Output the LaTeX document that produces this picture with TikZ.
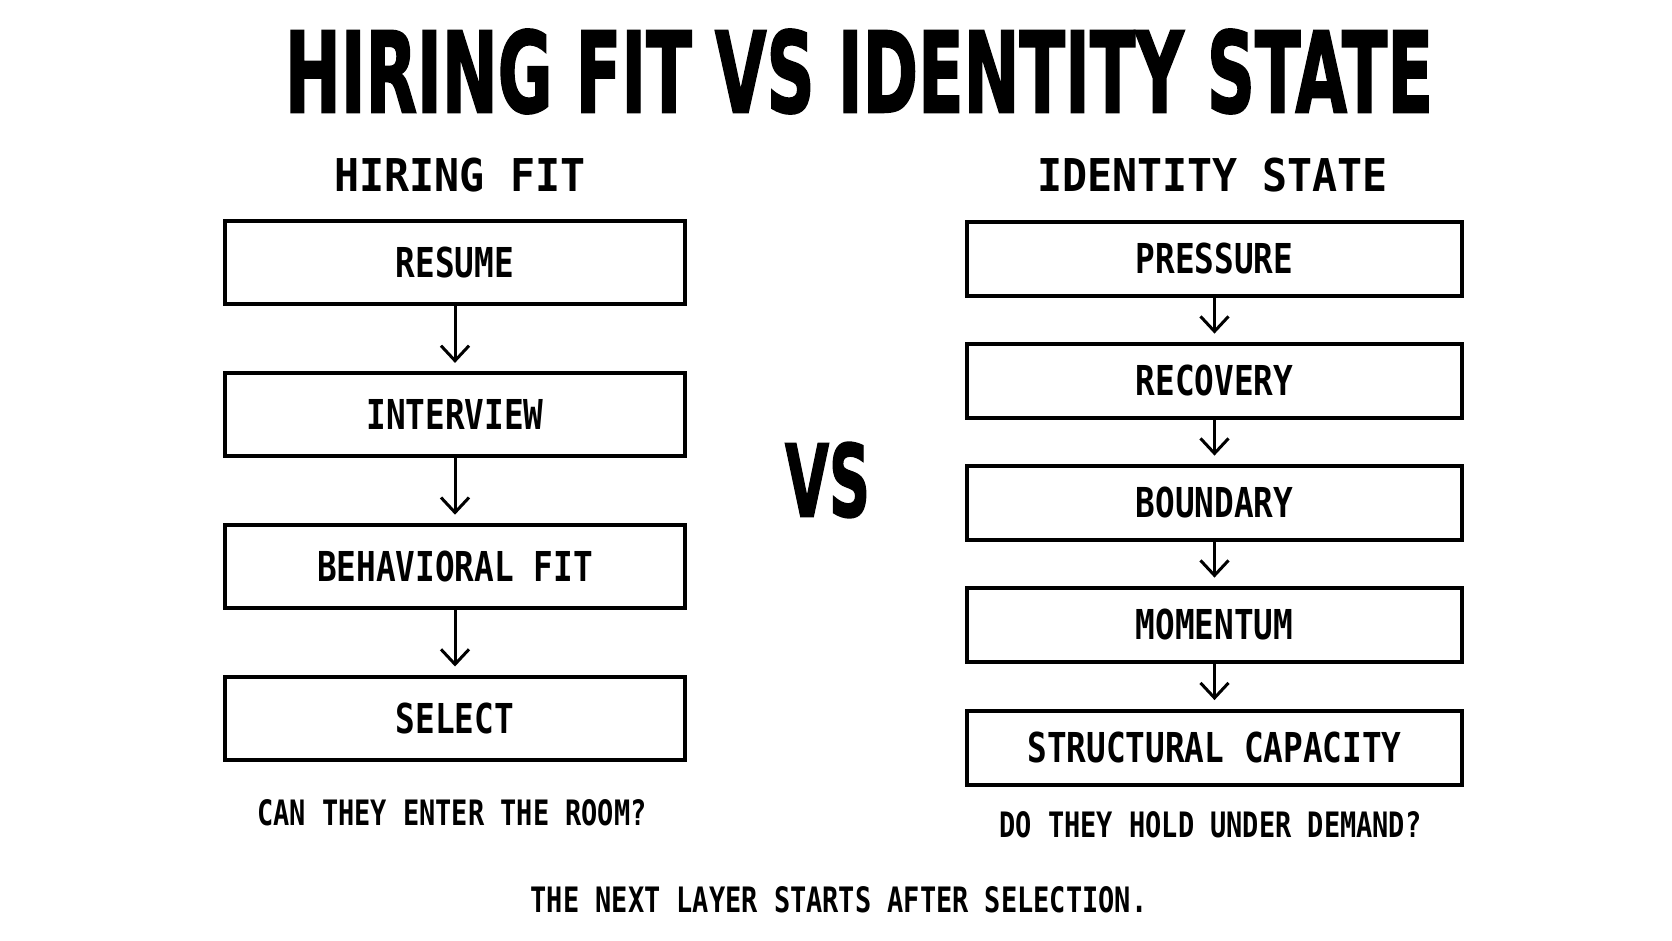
\documentclass[tikz,border=0pt]{standalone}
\usepackage{fontspec}
\usepackage{graphicx}
\usetikzlibrary{arrows.meta}
\newfontfamily\titlefont{DejaVu Sans Bold}[FakeBold=2]
\newfontfamily\labelfont{DejaVu Sans Mono Bold}[FakeStretch=0.794]
\newfontfamily\capfont{DejaVu Sans Mono Bold}[FakeStretch=0.77]
\newfontfamily\subfont{DejaVu Sans Mono Bold}[FakeStretch=0.92]
\begin{document}
\begin{tikzpicture}[x=0.5pt,y=-0.5pt,
  lbox/.style={draw=black, line width=2pt, minimum width=230pt, minimum height=41.5pt,
    inner sep=0pt, font=\labelfont\fontsize{20.6pt}{24pt}\selectfont},
  rbox/.style={draw=black, line width=2pt, minimum width=247.5pt, minimum height=37pt,
    inner sep=0pt, font=\labelfont\fontsize{20.6pt}{24pt}\selectfont},
  flow/.style={line width=1.5pt, -{Straight Barb[length=7.5pt,width=14pt]}, shorten >=4.2pt},
  capt/.style={inner sep=0pt, font=\capfont\fontsize{17.5pt}{20pt}\selectfont},
  subt/.style={inner sep=0pt, font=\subfont\fontsize{22.6pt}{26pt}\selectfont},
  bigt/.style={inner sep=0pt}]
\useasboundingbox[fill=white] (0,0) rectangle (1672,941);

\node[bigt] (title) at (859,71.5) {\resizebox{574pt}{41.5pt}{\titlefont HIRING FIT VS IDENTITY STATE}};
\node[bigt] (vs) at (827.5,480) {\resizebox{42.5pt}{37pt}{\titlefont VS}};

\node[subt] (hf) at (460,175) {HIRING FIT};
\node[subt] (is) at (1212.5,175) {IDENTITY STATE};

\node[lbox] (l1) at (455,263) {RESUME};
\node[lbox] (l2) at (455,414.8) {INTERVIEW};
\node[lbox] (l3) at (455,566.6) {BEHAVIORAL FIT};
\node[lbox] (l4) at (455,718.4) {SELECT};

\node[rbox] (r1) at (1214.5,259) {PRESSURE};
\node[rbox] (r2) at (1214.5,381) {RECOVERY};
\node[rbox] (r3) at (1214.5,503) {BOUNDARY};
\node[rbox] (r4) at (1214.5,625) {MOMENTUM};
\node[rbox] (r5) at (1214.5,747.5) {STRUCTURAL CAPACITY};

\draw[flow] (l1) -- (l2);
\draw[flow] (l2) -- (l3);
\draw[flow] (l3) -- (l4);
\draw[flow] (r1) -- (r2);
\draw[flow] (r2) -- (r3);
\draw[flow] (r3) -- (r4);
\draw[flow] (r4) -- (r5);

\node[capt] (q1) at (452,813) {CAN THEY ENTER THE ROOM?};
\node[capt] (q2) at (1210.5,824.5) {DO THEY HOLD UNDER DEMAND?};
\node[capt] (foot) at (839,899.5) {THE NEXT LAYER STARTS AFTER SELECTION.};
\end{tikzpicture}
\end{document}
